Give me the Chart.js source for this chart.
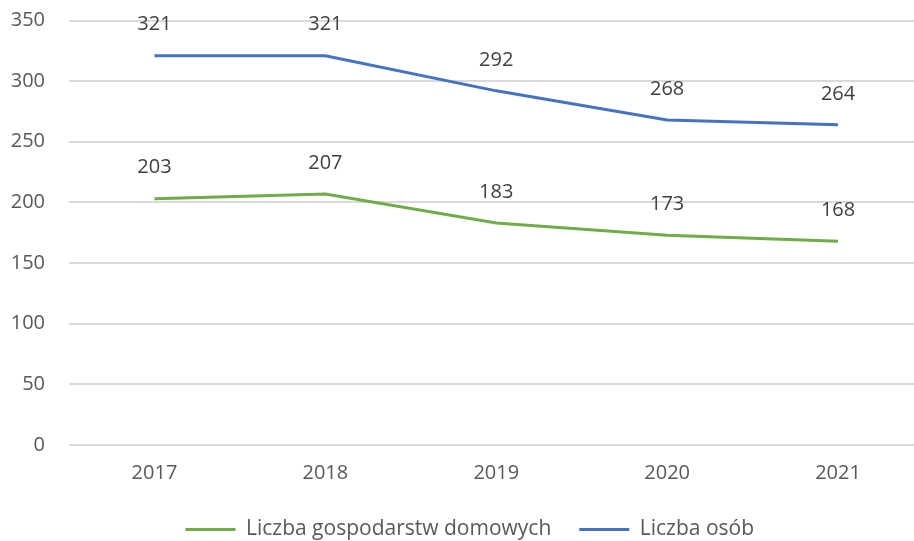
<!DOCTYPE html>
<html>
<head>
<meta charset="utf-8">
<script src="https://cdn.jsdelivr.net/npm/chart.js@4"></script>
<style>
  html, body { margin: 0; padding: 0; overflow: hidden; background: #ffffff; }
  #wrap { width: 952px; height: 541px; }
</style>
</head>
<body>
<div id="wrap"><canvas id="mychart" width="952" height="541"></canvas></div>
<script>
const years = ['2017', '2018', '2019', '2020', '2021'];
const households = [203, 207, 183, 173, 168];
const persons = [321, 321, 292, 268, 264];
const yTicks = [0, 50, 100, 150, 200, 250, 300, 350];

const labelFont = '20px "Open Sans", sans-serif';

// values written above each point
const pointLabels = {
    id: 'pointLabels',
    afterDatasetsDraw(chart) {
        const c = chart.ctx;
        c.save();
        c.font = labelFont;
        c.fillStyle = '#404040';
        c.textAlign = 'center';
        c.textBaseline = 'middle';
        chart.data.datasets.forEach((ds, i) => {
            chart.getDatasetMeta(i).data.forEach((pt, j) => {
                c.fillText(ds.data[j], pt.x, pt.y - 31);
            });
        });
        c.restore();
    }
};

// nudge the legend to the right so it sits where the original one does
const legendShift = {
    id: 'legendShift',
    afterLayout(chart) {
        chart.legend.left += 8;
        chart.legend.right += 8;
    }
};

const ctx = document.getElementById('mychart');
var chart = new Chart(ctx, {
    type: 'line',
    data: {
        labels: years,
        datasets: [
            {
                label: 'Liczba gospodarstw domowych',
                data: households,
                borderColor: '#70AD47',
                backgroundColor: '#70AD47',
                borderWidth: 3,
                pointRadius: 0,
                tension: 0,
            },
            {
                label: 'Liczba osób',
                data: persons,
                borderColor: '#4472C4',
                backgroundColor: '#4472C4',
                borderWidth: 3,
                pointRadius: 0,
                tension: 0,
            },
        ],
    },
    options: {
        responsive: false,
        animation: false,
        layout: {
            padding: {
                top: 20.5,
                right: 28.5,
                left: 0,
                bottom: -9,
            },
        },
        scales: {
            x: {
                offset: true,
                grid: {
                    display: false,
                },
                border: {
                    display: false,
                },
                ticks: {
                    padding: 8,
                    color: '#595959',
                    font: { family: '"Open Sans", sans-serif', size: 20 },
                },
                afterFit(scale) { scale.height = 46; },
            },
            y: {
                min: 0,
                max: 350,
                afterBuildTicks(scale) {
                    scale.ticks = yTicks.map(v => ({ value: v }));
                },
                grid: {
                    color: '#D9D9D9',
                    lineWidth: 2,
                    drawTicks: false,
                },
                border: {
                    display: false,
                },
                ticks: {
                    padding: 24,
                    color: '#595959',
                    font: { family: '"Open Sans", sans-serif', size: 20 },
                },
                afterFit(scale) {
                    scale.width = 69;
                    scale.paddingTop = 0;
                    scale.paddingBottom = 0;
                },
            }
        },
        plugins: {
            legend: {
                position: 'bottom',
                labels: {
                    usePointStyle: true,
                    pointStyle: 'line',
                    pointStyleWidth: 50,
                    padding: 28,
                    color: '#595959',
                    font: { family: '"Open Sans", sans-serif', size: 21 },
                },
            },
            tooltip: {
                enabled: false,
            },
        },
    },
    plugins: [pointLabels, legendShift],
});
</script>
</body>
</html>
